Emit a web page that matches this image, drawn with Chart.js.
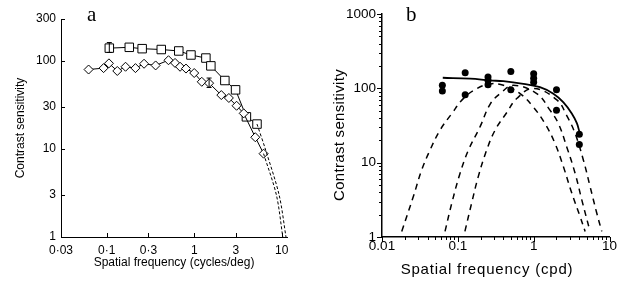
<!DOCTYPE html>
<html>
<head>
<meta charset="utf-8">
<script src="https://cdn.jsdelivr.net/npm/chart.js@4"></script>
<style>
  body { margin: 0; background: #fff; }
  #boxA { position: absolute; left: 0; top: 0; }
  #boxB { position: absolute; left: 310px; top: 0; }
</style>
</head>
<body>
<canvas id="boxA" width="310" height="282"></canvas>
<canvas id="boxB" width="311" height="282"></canvas>
<script>
// ---- panel a ----
const squareX = [0.107, 0.181, 0.254, 0.42, 0.666, 0.918, 1.36, 1.55, 2.24, 2.97, 3.95, 5.22];
const squareY = [140, 143, 138, 135, 130, 117, 108, 88, 60, 47, 23.2, 19.2];
const diamondX = [0.062, 0.092, 0.106, 0.132, 0.164, 0.213, 0.267, 0.362, 0.508, 0.604, 0.689, 0.805, 1.0, 1.22, 1.48, 2.04, 2.49, 3.05, 3.68, 4.99, 6.21];
const diamondY = [80, 83, 94, 77, 86, 83, 93, 89, 102, 95, 86, 82, 73, 58, 56, 41, 38, 31, 25.4, 13.6, 8.85];
const squareTailX = [5.22, 6.5, 9.35, 11.2];
const squareTailY = [19.2, 10, 3, 1];
const diamondTailX = [6.21, 8.7, 10.3];
const diamondTailY = [8.85, 3, 1];
const errX = [0.107, 1.48];
const errLo = [125, 50];
const errHi = [162, 64];
const xTicksA = [0.03, 0.1, 0.3, 1, 3, 10];
const xLabelsA = ['0·03', '0·1', '0·3', '1', '3', '10'];
const yTicksA = [1, 3, 10, 30, 100, 300];
const yLabelsA = ['1', '3', '10', '30', '100', '300'];

// ---- panel b ----
const dotX = [0.0625, 0.0625, 0.125, 0.125, 0.25, 0.25, 0.25, 0.5, 0.5, 1, 1, 1, 2, 2, 4, 4];
const dotY = [110, 92, 162, 82, 142, 128, 112, 169, 96, 157, 137, 121, 96, 51, 24.2, 17.6];
const fitX = [0.0633, 0.145, 0.266, 0.398, 0.731, 1.21, 1.82, 2.47, 3.18, 3.71, 4.01];
const fitY = [139, 135, 128, 125, 115, 104, 85, 65, 46, 34, 26];
const mech1X = [0.0182, 0.0259, 0.0334, 0.043, 0.0582, 0.0832, 0.118, 0.177, 0.266, 0.40, 0.662, 0.99, 1.41, 1.91, 2.47, 3.18, 4.09, 4.77];
const mech1Y = [1.19, 3.5, 8.0, 14.8, 27.4, 45.8, 72.8, 99, 115, 110, 85, 56, 33.6, 18.2, 8.8, 3.9, 1.89, 1.19];
const mech2X = [0.0678, 0.0832, 0.107, 0.138, 0.196, 0.266, 0.361, 0.54, 1.10, 1.64, 2.12, 2.73, 3.52, 4.31, 5.54];
const mech2Y = [1.19, 2.85, 7.2, 14.8, 30.3, 61, 85, 110, 85, 51, 33.6, 16.3, 7.2, 3.16, 1.19];
const mech3X = [0.124, 0.152, 0.186, 0.240, 0.310, 0.440, 0.598, 0.99, 2.02, 2.73, 3.52, 4.53, 5.54, 6.79, 7.91];
const mech3Y = [1.19, 2.85, 6.5, 14.8, 27.4, 47, 73, 100, 70, 43, 24.7, 10.8, 4.8, 2.1, 1.19];
const xTicksB = [0.01, 0.1, 1, 10];
const xLabelsB = ['0.01', '0.1', '1', '10'];
const yTicksB = [1, 10, 100, 1000];
const yLabelsB = ['1', '10', '100', '1000'];

const pts = (xs, ys) => xs.map((x, i) => ({ x: x, y: ys[i] }));

function decadeTicks(lo, hi) {
  const out = [];
  for (let e = lo; e < hi; e++) {
    for (let m = 1; m < 10; m++) out.push({ value: +(m * 10 ** e).toPrecision(3), major: m === 1 });
  }
  out.push({ value: 10 ** hi, major: true });
  return out;
}

// tick marks drawn by hand so they can point in or out
const tickMarks = {
  id: 'tickMarks',
  afterDraw(chart, args, opts) {
    const ctx = chart.ctx;
    const area = chart.chartArea;
    const dir = opts.inward ? 1 : -1;
    ctx.save();
    ctx.strokeStyle = '#000';
    ctx.lineWidth = 1;
    ctx.beginPath();
    chart.scales.x.ticks.forEach(t => {
      const px = Math.round(chart.scales.x.getPixelForValue(t.value)) + 0.5;
      const len = t.major ? opts.majorLen : opts.minorLen;
      ctx.moveTo(px, area.bottom);
      ctx.lineTo(px, area.bottom - dir * len);
    });
    chart.scales.y.ticks.forEach(t => {
      const py = Math.round(chart.scales.y.getPixelForValue(t.value)) + 0.5;
      const len = t.major ? opts.majorLen : opts.minorLen;
      ctx.moveTo(area.left, py);
      ctx.lineTo(area.left + dir * len, py);
    });
    ctx.stroke();
    ctx.restore();
  }
};

const errorBars = {
  id: 'errorBars',
  afterDatasetsDraw(chart, args, opts) {
    if (!opts.xs) return;
    const ctx = chart.ctx;
    ctx.save();
    ctx.strokeStyle = '#000';
    ctx.lineWidth = 1;
    ctx.beginPath();
    opts.xs.forEach((x, i) => {
      const px = chart.scales.x.getPixelForValue(x);
      const top = chart.scales.y.getPixelForValue(opts.hi[i]);
      const bot = chart.scales.y.getPixelForValue(opts.lo[i]);
      ctx.moveTo(px, top); ctx.lineTo(px, bot);
      ctx.moveTo(px - 2.5, top); ctx.lineTo(px + 2.5, top);
      ctx.moveTo(px - 2.5, bot); ctx.lineTo(px + 2.5, bot);
    });
    ctx.stroke();
    ctx.restore();
  }
};

const freeText = {
  id: 'freeText',
  afterDraw(chart, args, opts) {
    const ctx = chart.ctx;
    (opts.items || []).forEach(it => {
      ctx.save();
      ctx.fillStyle = '#000';
      ctx.font = it.font;
      ctx.letterSpacing = (it.spacing || 0) + 'px';
      ctx.textAlign = it.align || 'left';
      ctx.textBaseline = it.baseline || 'alphabetic';
      ctx.translate(it.x, it.y);
      if (it.rotate) ctx.rotate(it.rotate);
      ctx.fillText(it.text, 0, 0);
      ctx.restore();
    });
  }
};

const fontA = { family: 'Liberation Sans', size: 12 };
const fontB = { family: 'Liberation Sans', size: 13.5 };

const chartA = new Chart(document.getElementById('boxA').getContext('2d'), {
  type: 'scatter',
  data: {
    datasets: [
      {
        data: pts(squareTailX, squareTailY), showLine: true, pointRadius: 0,
        borderColor: '#000', borderWidth: 1, borderDash: [3, 2], tension: 0.3
      },
      {
        data: pts(diamondTailX, diamondTailY), showLine: true, pointRadius: 0,
        borderColor: '#000', borderWidth: 1, borderDash: [3, 2], tension: 0.3
      },
      {
        data: pts(diamondX, diamondY), showLine: true,
        borderColor: '#000', borderWidth: 1,
        pointStyle: 'rectRot', pointRadius: 4.5,
        pointBackgroundColor: '#fff', pointBorderColor: '#000', pointBorderWidth: 1
      },
      {
        data: pts(squareX, squareY), showLine: true,
        borderColor: '#000', borderWidth: 1,
        pointStyle: 'rect', pointRadius: 6,
        pointBackgroundColor: '#fff', pointBorderColor: '#000', pointBorderWidth: 1
      }
    ]
  },
  options: {
    responsive: false,
    animation: false,
    layout: { padding: { left: 0, right: 23, top: 19, bottom: 0 } },
    plugins: {
      legend: { display: false },
      tooltip: { enabled: false },
      tickMarks: { inward: true, majorLen: 4, minorLen: 4 },
      errorBars: { xs: errX, lo: errLo, hi: errHi },
      freeText: { items: [{ text: 'a', x: 87, y: 21, font: '21px "Liberation Serif"' }] }
    },
    scales: {
      x: {
        type: 'logarithmic', min: 0.03, max: 11.5,
        afterBuildTicks: s => { s.ticks = xTicksA.map(v => ({ value: v, major: true })); },
        afterFit: s => { s.height = 45; },
        grid: { display: false, drawTicks: false },
        border: { color: '#000', width: 1 },
        ticks: {
          color: '#000', font: fontA, padding: 6, maxRotation: 0, autoSkip: false,
          callback: v => { const i = xTicksA.indexOf(v); return i < 0 ? '' : xLabelsA[i]; }
        },
        title: {
          display: true, text: 'Spatial frequency (cycles/deg)', color: '#000',
          font: fontA, padding: { top: 0, bottom: 12 }
        }
      },
      y: {
        type: 'logarithmic', min: 1, max: 300,
        afterBuildTicks: s => { s.ticks = yTicksA.map(v => ({ value: v, major: true })); },
        afterFit: s => { s.width = 61; },
        grid: { display: false, drawTicks: false },
        border: { color: '#000', width: 1 },
        ticks: {
          color: '#000', font: fontA, padding: 5, autoSkip: false,
          callback: v => { const i = yTicksA.indexOf(v); return i < 0 ? '' : yLabelsA[i]; }
        },
        title: {
          display: true, text: 'Contrast sensitivity', color: '#000',
          font: fontA, padding: { top: 13, bottom: 0 }
        }
      }
    }
  },
  plugins: [tickMarks, errorBars, freeText]
});

const dashed = { showLine: true, pointRadius: 0, borderColor: '#000', borderWidth: 1.5, borderDash: [6, 5], tension: 0.4 };

const chartB = new Chart(document.getElementById('boxB').getContext('2d'), {
  type: 'scatter',
  data: {
    datasets: [
      Object.assign({ data: pts(mech1X, mech1Y) }, dashed),
      Object.assign({ data: pts(mech2X, mech2Y) }, dashed),
      Object.assign({ data: pts(mech3X, mech3Y) }, dashed),
      {
        data: pts(fitX, fitY), showLine: true, pointRadius: 0,
        borderColor: '#000', borderWidth: 1.8, tension: 0.4
      },
      {
        data: pts(dotX, dotY), showLine: false,
        pointStyle: 'circle', pointRadius: 3.5,
        pointBackgroundColor: '#000', pointBorderColor: '#000', pointBorderWidth: 0
      }
    ]
  },
  options: {
    responsive: false,
    animation: false,
    layout: { padding: { left: 0, right: 11.5, top: 13, bottom: 0 } },
    plugins: {
      legend: { display: false },
      tooltip: { enabled: false },
      tickMarks: { inward: false, majorLen: 5, minorLen: 3 },
      freeText: {
        items: [
          { text: 'b', x: 96, y: 21, font: '21px "Liberation Serif"' },
          { text: 'Spatial frequency (cpd)', x: 177, y: 270, font: '15px "Liberation Sans"', spacing: 0.8, align: 'center', baseline: 'middle' },
          { text: 'Contrast sensitivity', x: 30, y: 135, font: '15px "Liberation Sans"', spacing: 0.3, align: 'center', baseline: 'middle', rotate: -Math.PI / 2 }
        ]
      }
    },
    scales: {
      x: {
        type: 'logarithmic', min: 0.01, max: 10,
        afterBuildTicks: s => { s.ticks = decadeTicks(-2, 1); },
        afterFit: s => { s.height = 45; },
        grid: { display: false, drawTicks: false },
        border: { color: '#000', width: 1.5 },
        ticks: {
          color: '#000', font: fontB, padding: 1, maxRotation: 0, minRotation: 0, autoSkip: false,
          callback: v => { const i = xTicksB.indexOf(v); return i < 0 ? '' : xLabelsB[i]; }
        },
        title: { display: false }
      },
      y: {
        type: 'logarithmic', min: 1, max: 1000,
        afterBuildTicks: s => { s.ticks = decadeTicks(0, 3); },
        afterFit: s => { s.width = 72; },
        grid: { display: false, drawTicks: false },
        border: { color: '#000', width: 1.5 },
        ticks: {
          color: '#000', font: fontB, padding: 6, autoSkip: false,
          callback: v => { const i = yTicksB.indexOf(v); return i < 0 ? '' : yLabelsB[i]; }
        },
        title: { display: false }
      }
    }
  },
  plugins: [tickMarks, freeText]
});
</script>
</body>
</html>
